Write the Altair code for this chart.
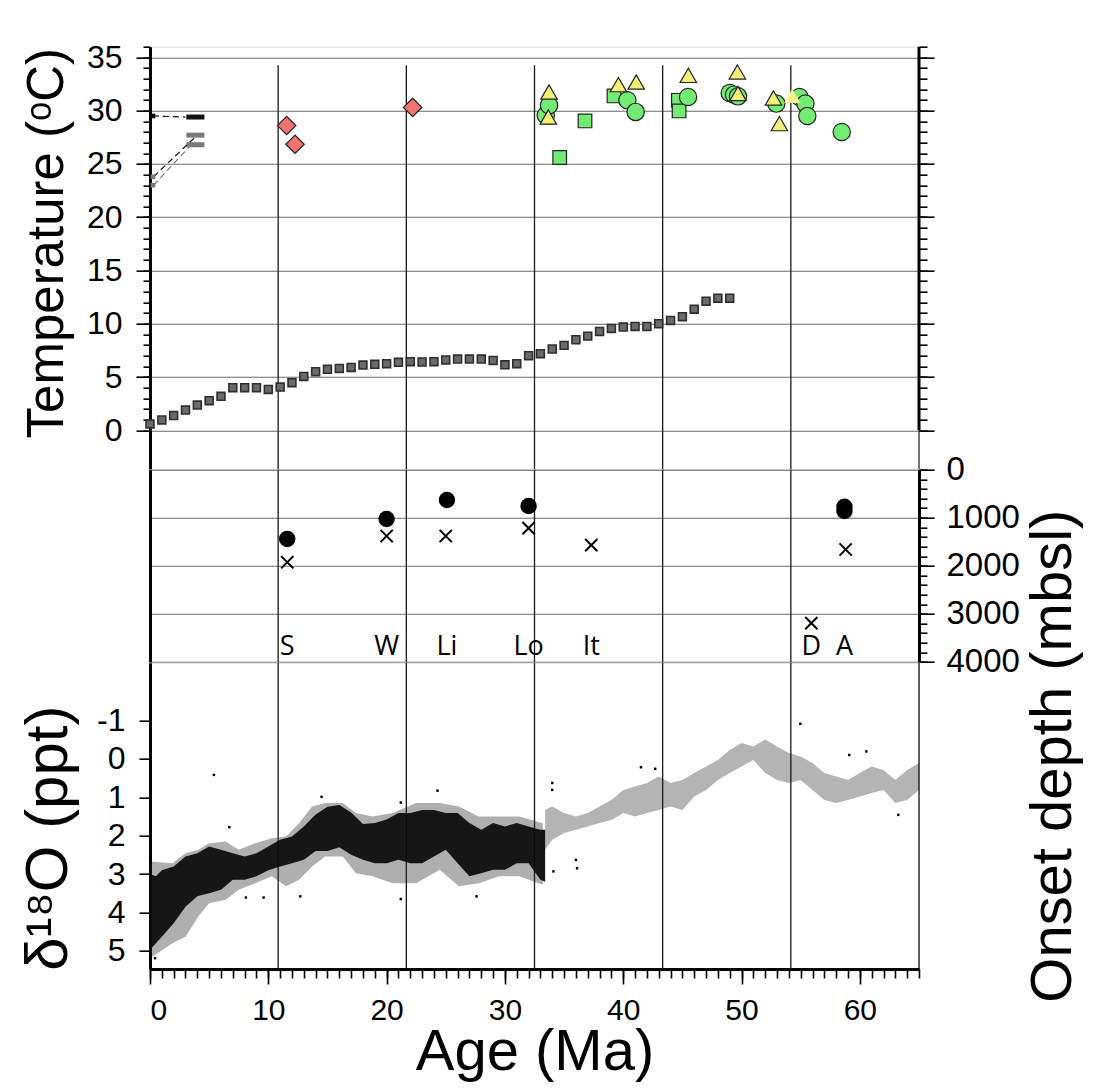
import altair as alt
import pandas as pd

FONT = "Liberation Sans"

# ---------------- shared x ----------------
AGE_DOMAIN = [0, 65]
boundary_age = [10.833, 21.667, 32.5, 43.333, 54.167]

# ---------------- temperature panel ----------------
TEMP_DOMAIN = [-3.63, 36]
temp_vline_top = 34.25

gray_age = list(range(0, 50))
gray_temp = [0.6, 0.97, 1.38, 1.9, 2.37, 2.78, 3.19, 4.0, 4.0, 4.0,
             3.84, 4.06, 4.47, 5.06, 5.5, 5.72, 5.81, 5.9, 6.12, 6.19,
             6.25, 6.38, 6.44, 6.41, 6.44, 6.6, 6.69, 6.69, 6.69, 6.56,
             6.15, 6.25, 7.0, 7.19, 7.63, 7.97, 8.5, 8.84, 9.28, 9.56,
             9.69, 9.75, 9.75, 10.0, 10.31, 10.66, 11.37, 12.12, 12.4, 12.4]

diamond_age = [11.55, 12.26, 22.2]
diamond_temp = [28.6, 26.85, 30.3]

circle_age = [33.45, 33.73, 40.35, 41.05, 45.48, 49.0, 49.37, 49.7, 52.94, 54.9, 55.4, 55.56, 58.47]
circle_temp = [29.56, 30.5, 30.97, 29.88, 31.28, 31.65, 31.5, 31.34, 30.66, 31.28, 30.66, 29.5, 28.0]

gsquare_age = [34.63, 36.77, 39.22, 44.66, 44.72]
gsquare_temp = [25.6, 29.03, 31.38, 30.97, 29.97]

tri_age = [33.73, 33.67, 39.59, 41.1, 45.5, 49.65, 49.7, 52.7, 53.2]
tri_temp = [31.75, 29.4, 32.44, 32.69, 33.31, 33.63, 31.6, 31.19, 28.78]

pale_tri_age = [54.3]
pale_tri_temp = [31.38]

modern_bar_age = [3.07, 3.07, 3.07]
modern_bar_age2 = [4.6, 4.6, 4.6]
modern_bar_temp = [29.4, 27.7, 26.8]
modern_bar_group = ["black", "gray", "gray"]

proxy_line_group = ["black", "black", "gray1", "gray1", "gray2", "gray2"]
proxy_line_age = [0.25, 3.0, 0.3, 3.8, 0.3, 3.4]
proxy_line_temp = [29.5, 29.4, 23.8, 27.5, 23.0, 26.7]

small_sq_age = [0.25, 0.25, 0.25]
small_sq_temp = [29.5, 23.8, 23.0]
small_sq_group = ["black", "gray", "gray"]

# ---------------- onset depth panel ----------------
DEPTH_DOMAIN = [0, 4000]
site_names = ["S", "W", "Li", "Lo", "It", "D", "A"]
site_age = [11.6, 20.0, 25.1, 32.0, 37.3, 55.9, 58.7]
site_label_depth = 3690

dot_age = [11.6, 20.0, 25.1, 32.0, 58.7, 58.7]
dot_depth = [1440, 1025, 630, 755, 770, 860]

cross_age = [11.6, 20.0, 25.0, 32.0, 37.3, 55.9, 58.8]
cross_depth = [1925, 1380, 1380, 1215, 1570, 3190, 1660]

# ---------------- d18O panel ----------------
D18_DOMAIN = [-2.5, 5.47]

# outer (sparse) spread of the Neogene / Oligocene cloud
outer_age = [0, 1.9, 3, 4.1, 5, 6.4, 7.5, 8.9, 10.3, 11.5, 12.6, 13.7, 14.8, 16.3, 17.4, 18.8,
             20.5, 22.5, 24.5, 26.1, 27.8, 29.5, 31.2, 33.2]
outer_lo = [2.67, 2.72, 2.46, 2.37, 2.2, 2.15, 2.37, 2.2, 2.07, 2.02, 1.68, 1.24, 1.15, 1.15, 1.41, 1.5,
            1.41, 1.15, 1.15, 1.24, 1.5, 1.5, 1.5, 1.68]
outer_hi = [5.19, 4.8, 4.63, 4.1, 3.76, 3.67, 3.41, 3.24, 3.06, 3.32, 3.15, 2.8, 2.54, 2.54, 2.98, 3.06,
            3.24, 3.24, 2.89, 3.32, 3.24, 3.06, 3.06, 3.28]

# dense core of the cloud
dense_age = [0, 0.5, 1, 2, 3, 4, 5, 6, 7, 8, 9, 10, 11, 12, 13, 14, 15, 16, 17, 18,
             19, 20, 21, 22, 23, 24, 25, 26, 27, 28, 29, 30, 31, 32, 33, 33.4]
dense_lo = [3.0, 3.06, 2.9, 2.8, 2.54, 2.46, 2.28, 2.37, 2.46, 2.54, 2.46, 2.28, 2.11, 2.02, 1.76, 1.45, 1.25, 1.2, 1.4, 1.7,
            1.67, 1.58, 1.41, 1.41, 1.33, 1.33, 1.41, 1.41, 1.67, 1.85, 1.67, 1.76, 1.67, 1.76, 1.85, 1.85]
dense_hi = [4.97, 4.8, 4.63, 4.28, 3.85, 3.58, 3.5, 3.41, 3.15, 3.15, 3.06, 2.9, 2.8, 2.72, 2.63, 2.4, 2.4, 2.3, 2.5, 2.63,
            2.72, 2.72, 2.63, 2.72, 2.72, 2.54, 2.37, 2.72, 3.06, 2.98, 2.89, 2.89, 2.72, 2.72, 3.15, 3.2]

# Eocene / Paleocene sparse band
sparse_age = [33.4, 34, 35, 36, 37, 38, 39, 40, 41, 42, 43, 44, 45, 46, 47, 48, 49, 50, 51, 52,
              53, 54, 55, 56, 57, 58, 59, 60, 61, 62, 63, 64, 65]
sparse_lo = [1.33, 1.24, 1.41, 1.5, 1.41, 1.24, 1.07, 0.81, 0.72, 0.63, 0.46, 0.63, 0.55, 0.37, 0.2, 0.03, -0.23, -0.41, -0.32, -0.5,
             -0.32, -0.15, -0.06, 0.11, 0.37, 0.46, 0.55, 0.37, 0.2, 0.29, 0.55, 0.29, 0.11]
sparse_hi = [2.37, 2.11, 1.93, 1.85, 1.76, 1.67, 1.59, 1.41, 1.5, 1.41, 1.33, 1.24, 1.33, 0.98, 0.81, 0.55, 0.37, 0.2, 0.03, 0.37,
             0.55, 0.63, 0.55, 0.81, 1.07, 1.15, 1.07, 0.98, 0.89, 0.81, 1.15, 1.07, 0.81]

outlier_age = [0.42, 5.4, 6.7, 14.5, 8.1, 9.6, 12.7, 21.2, 21.2, 24.3, 27.6, 34.0, 34.0, 36.0, 36.1, 34.1, 41.5, 42.7, 54.97, 59.1, 60.55, 63.25]
outlier_d18 = [5.19, 0.42, 1.78, 0.99, 3.61, 3.61, 3.58, 3.65, 1.14, 0.83, 3.58, 0.63, 0.81, 2.63, 2.85, 2.93, 0.22, 0.26, -0.91, -0.1, -0.19, 1.46]

# ---------------- sizes ----------------
W = 769
H_TEMP = 422.3
H_DEPTH = 192.3
H_D18 = 306.3


def xs():
    return alt.Scale(domain=AGE_DOMAIN, nice=False, zero=False)


def ts():
    return alt.Scale(domain=TEMP_DOMAIN, nice=False, zero=False)


def ds():
    return alt.Scale(domain=DEPTH_DOMAIN, nice=False, zero=False, reverse=True)


def os_():
    return alt.Scale(domain=D18_DOMAIN, nice=False, zero=False, reverse=True)


NOAX = None

# ======================= panel A: temperature =======================
vl_a = pd.DataFrame({"age": boundary_age, "top": [temp_vline_top] * 5, "bot": [TEMP_DOMAIN[0]] * 5})
a_vlines = alt.Chart(vl_a).mark_rule(color="#1a1a1a", strokeWidth=1.3).encode(
    x=alt.X("age:Q", scale=xs(), axis=NOAX),
    y=alt.Y("top:Q", scale=ts(), axis=alt.Axis(
        orient="left", values=list(range(0, 36, 5)), tickSize=14, tickWidth=1.6, tickColor="black",
        labelFontSize=32, labelPadding=14, labelColor="black",
        grid=True, gridColor="#6a6a6a", gridWidth=1.1,
        domain=True, domainWidth=3, domainColor="black",
        title="Temperature (ᵒC)", titleFontSize=51, titleFontWeight="normal", titleColor="black",
        titleAngle=270, titleX=-88, titleY=196, titleBaseline="alphabetic", titleAlign="center")),
    y2="bot:Q",
)

bars_df = pd.DataFrame({"age": modern_bar_age, "age2": modern_bar_age2, "temp": modern_bar_temp, "g": modern_bar_group})
a_bars = alt.Chart(bars_df).mark_rule(strokeWidth=5).encode(
    x=alt.X("age:Q", scale=xs(), axis=NOAX), x2="age2:Q",
    y=alt.Y("temp:Q", scale=ts(), axis=NOAX),
    color=alt.Color("g:N", scale=alt.Scale(domain=["black", "gray"], range=["#111111", "#7a7a7a"]), legend=None),
)

lines_df = pd.DataFrame({"g": proxy_line_group, "age": proxy_line_age, "temp": proxy_line_temp})
a_lines = alt.Chart(lines_df).mark_line(strokeWidth=1.2, strokeDash=[6, 4]).encode(
    x=alt.X("age:Q", scale=xs(), axis=NOAX),
    y=alt.Y("temp:Q", scale=ts(), axis=NOAX),
    detail="g:N",
    color=alt.Color("g:N", scale=alt.Scale(domain=["black", "gray1", "gray2"], range=["#111111", "#8a8a8a", "#8a8a8a"]), legend=None),
)

ssq_df = pd.DataFrame({"age": small_sq_age, "temp": small_sq_temp, "g": small_sq_group})
a_ssq = alt.Chart(ssq_df).mark_square(size=22, opacity=1).encode(
    x=alt.X("age:Q", scale=xs(), axis=NOAX),
    y=alt.Y("temp:Q", scale=ts(), axis=NOAX),
    color=alt.Color("g:N", scale=alt.Scale(domain=["black", "gray"], range=["#111111", "#7a7a7a"]), legend=None),
)

gray_df = pd.DataFrame({"age": gray_age, "temp": gray_temp})
a_gray = alt.Chart(gray_df).mark_square(size=62, fill="#6b6b6b", stroke="#2e2e2e", strokeWidth=1.6, opacity=1).encode(
    x=alt.X("age:Q", scale=xs(), axis=NOAX),
    y=alt.Y("temp:Q", scale=ts(), axis=alt.Axis(
        orient="left", values=list(range(0, 37)), tickSize=7, tickWidth=1.6, tickColor="black",
        labels=False, grid=False, domain=False, title=None)),
)

dia_df = pd.DataFrame({"age": diamond_age, "temp": diamond_temp})
a_dia = alt.Chart(dia_df).mark_point(shape="diamond", size=340, filled=True, fill="#f07373", stroke="#222", strokeWidth=1.2, opacity=1).encode(
    x=alt.X("age:Q", scale=xs(), axis=NOAX),
    y=alt.Y("temp:Q", scale=ts(), axis=NOAX),
)

gsq_df = pd.DataFrame({"age": gsquare_age, "temp": gsquare_temp})
a_gsq = alt.Chart(gsq_df).mark_square(size=185, fill="#74ec74", stroke="#222", strokeWidth=1.2, opacity=1).encode(
    x=alt.X("age:Q", scale=xs(), axis=NOAX),
    y=alt.Y("temp:Q", scale=ts(), axis=alt.Axis(
        orient="right", values=list(range(0, 36, 5)), tickSize=15, tickWidth=1.6, tickColor="black",
        labels=False, grid=False, domain=False, title=None)),
)

circ_df = pd.DataFrame({"age": circle_age, "temp": circle_temp})
a_circ = alt.Chart(circ_df).mark_circle(size=300, fill="#74ec74", stroke="#222", strokeWidth=1.2, opacity=1).encode(
    x=alt.X("age:Q", scale=xs(), axis=NOAX),
    y=alt.Y("temp:Q", scale=ts(), axis=alt.Axis(
        orient="right", values=list(range(0, 37)), tickSize=8, tickWidth=1.6, tickColor="black",
        labels=False, grid=False, domain=False, title=None)),
)

tri_df = pd.DataFrame({"age": tri_age, "temp": tri_temp})
a_tri = alt.Chart(tri_df).mark_point(shape="triangle-up", size=270, filled=True, fill="#f3f07a", stroke="#222", strokeWidth=1.2, opacity=1).encode(
    x=alt.X("age:Q", scale=xs(), axis=NOAX),
    y=alt.Y("temp:Q", scale=ts(), axis=NOAX),
)

ptri_df = pd.DataFrame({"age": pale_tri_age, "temp": pale_tri_temp})
a_ptri = alt.Chart(ptri_df).mark_point(shape="triangle-up", size=270, filled=True, fill="#f6f38c", strokeWidth=0, opacity=1).encode(
    x=alt.X("age:Q", scale=xs(), axis=NOAX),
    y=alt.Y("temp:Q", scale=ts(), axis=NOAX),
)

rb_a = pd.DataFrame({"age": [65, 65], "y1": [0, TEMP_DOMAIN[0]], "y2": [36, 0], "w": [3, 1]})
a_rb = alt.Chart(rb_a).mark_rule(color="black").encode(
    x=alt.X("age:Q", scale=xs(), axis=NOAX),
    y=alt.Y("y1:Q", scale=ts(), axis=NOAX), y2="y2:Q",
    size=alt.Size("w:Q", scale=None, legend=None),
)

panel_a = alt.layer(
    a_vlines, a_gray, a_gsq, a_circ, a_bars, a_lines, a_ssq, a_dia, a_tri, a_ptri, a_rb
).resolve_scale(y="independent").properties(width=W, height=H_TEMP)

# ======================= panel B: onset depth =======================
vl_b = pd.DataFrame({"age": boundary_age, "top": [0] * 5, "bot": [4000] * 5})
b_vlines = alt.Chart(vl_b).mark_rule(color="#1a1a1a", strokeWidth=1.3).encode(
    x=alt.X("age:Q", scale=xs(), axis=NOAX),
    y=alt.Y("top:Q", scale=ds(), axis=alt.Axis(
        orient="right", values=list(range(0, 4001, 1000)), format="d", tickSize=15, tickWidth=1.6, tickColor="black",
        labelFontSize=33, labelPadding=12, labelColor="black",
        grid=True, gridColor="#6a6a6a", gridWidth=1.1,
        domain=True, domainWidth=3, domainColor="black",
        title="Onset depth (mbsl)", titleFontSize=58, titleFontWeight="normal", titleColor="black",
        titleAngle=270, titleX=152, titleY=286, titleBaseline="alphabetic", titleAlign="center")),
    y2="bot:Q",
)

dot_df = pd.DataFrame({"age": dot_age, "depth": dot_depth})
b_dots = alt.Chart(dot_df).mark_circle(size=270, color="black", opacity=1).encode(
    x=alt.X("age:Q", scale=xs(), axis=NOAX),
    y=alt.Y("depth:Q", scale=ds(), axis=alt.Axis(
        orient="right", values=list(range(0, 4001, 200)), tickSize=8, tickWidth=1.6, tickColor="black",
        labels=False, grid=False, domain=False, title=None)),
)

cross_df = pd.DataFrame({"age": cross_age, "depth": cross_depth})
b_cross = alt.Chart(cross_df).mark_point(shape="M -1 -1 L 1 1 M -1 1 L 1 -1", size=150, filled=False, color="black", strokeWidth=2, opacity=1).encode(
    x=alt.X("age:Q", scale=xs(), axis=NOAX),
    y=alt.Y("depth:Q", scale=ds(), axis=alt.Axis(
        orient="left", ticks=False, labels=False, grid=False, domain=True, domainWidth=3, domainColor="black", title=None)),
)

lab_df = pd.DataFrame({"age": site_age, "name": site_names, "depth": [site_label_depth] * len(site_names)})
b_labels = alt.Chart(lab_df).mark_text(font="Open Sans", fontSize=27, color="black", align="center", baseline="middle").encode(
    x=alt.X("age:Q", scale=xs(), axis=NOAX),
    y=alt.Y("depth:Q", scale=ds(), axis=NOAX),
    text="name:N",
)

panel_b = alt.layer(b_vlines, b_dots, b_cross, b_labels).resolve_scale(y="independent").properties(width=W, height=H_DEPTH)

# ======================= panel C: d18O =======================
vl_c = pd.DataFrame({"age": boundary_age, "top": [D18_DOMAIN[0]] * 5, "bot": [D18_DOMAIN[1]] * 5})
c_vlines = alt.Chart(vl_c).mark_rule(color="#1a1a1a", strokeWidth=1.3).encode(
    x=alt.X("age:Q", scale=xs(), axis=alt.Axis(
        orient="bottom", values=list(range(0, 61, 10)), format="d", tickSize=15, tickWidth=1.6, tickColor="black",
        labelFontSize=30, labelPadding=12, labelColor="black", grid=False,
        domain=True, domainWidth=3, domainColor="black",
        title="Age (Ma)", titleFontSize=58, titleFontWeight="normal", titleColor="black",
        titleY=101, titleBaseline="alphabetic")),
    y=alt.Y("top:Q", scale=os_(), axis=alt.Axis(
        orient="left", values=list(range(-1, 6)), tickSize=11, tickWidth=1.6, tickColor="black",
        labelExpr="'' + datum.value",
        labelFontSize=32, labelPadding=14, labelColor="black", grid=False,
        domain=True, domainWidth=3, domainColor="black",
        title="δ¹⁸O (ppt)", titleFontSize=60, titleFontWeight="normal", titleColor="black",
        titleAngle=270, titleX=-84, titleY=175, titleBaseline="alphabetic", titleAlign="center")),
    y2="bot:Q",
)

outer_df = pd.DataFrame({"age": outer_age, "lo": outer_lo, "hi": outer_hi})
c_outer = alt.Chart(outer_df).mark_area(color="#1a1a1a", opacity=0.35).encode(
    x=alt.X("age:Q", scale=xs(), axis=NOAX),
    y=alt.Y("lo:Q", scale=os_(), axis=NOAX),
    y2="hi:Q",
)

dense_df = pd.DataFrame({"age": dense_age, "lo": dense_lo, "hi": dense_hi})
c_dense = alt.Chart(dense_df).mark_area(color="black", opacity=0.92).encode(
    x=alt.X("age:Q", scale=xs(), axis=alt.Axis(
        orient="bottom", values=list(range(0, 66)), tickSize=9, tickWidth=1.6, tickColor="black",
        labels=False, grid=False, domain=False, title=None)),
    y=alt.Y("lo:Q", scale=os_(), axis=NOAX),
    y2="hi:Q",
)

sparse_df = pd.DataFrame({"age": sparse_age, "lo": sparse_lo, "hi": sparse_hi})
c_sparse = alt.Chart(sparse_df).mark_area(color="#1a1a1a", opacity=0.33).encode(
    x=alt.X("age:Q", scale=xs(), axis=NOAX),
    y=alt.Y("lo:Q", scale=os_(), axis=NOAX),
    y2="hi:Q",
)

out_df = pd.DataFrame({"age": outlier_age, "d18": outlier_d18})
c_out = alt.Chart(out_df).mark_square(size=6, color="black", opacity=1).encode(
    x=alt.X("age:Q", scale=xs(), axis=NOAX),
    y=alt.Y("d18:Q", scale=os_(), axis=NOAX),
)

rb_c = pd.DataFrame({"age": [65], "y1": [D18_DOMAIN[0]], "y2": [D18_DOMAIN[1]]})
c_rb = alt.Chart(rb_c).mark_rule(color="black", strokeWidth=1.2).encode(
    x=alt.X("age:Q", scale=xs(), axis=NOAX),
    y=alt.Y("y1:Q", scale=os_(), axis=NOAX), y2="y2:Q",
)

panel_c = alt.layer(c_vlines, c_dense, c_outer, c_sparse, c_out, c_rb).resolve_scale(
    x="independent", y="independent").properties(width=W, height=H_D18)

chart = alt.vconcat(panel_a, panel_b, panel_c, spacing=0, bounds="flush").properties(
    padding={"left": 9, "top": 32.7, "right": 0, "bottom": 0}
).configure_view(stroke=None).configure_axis(
    labelFont=FONT, titleFont=FONT
).configure(background="white")

chart.save("out.html", embed_options={"renderer": "svg", "actions": False})
